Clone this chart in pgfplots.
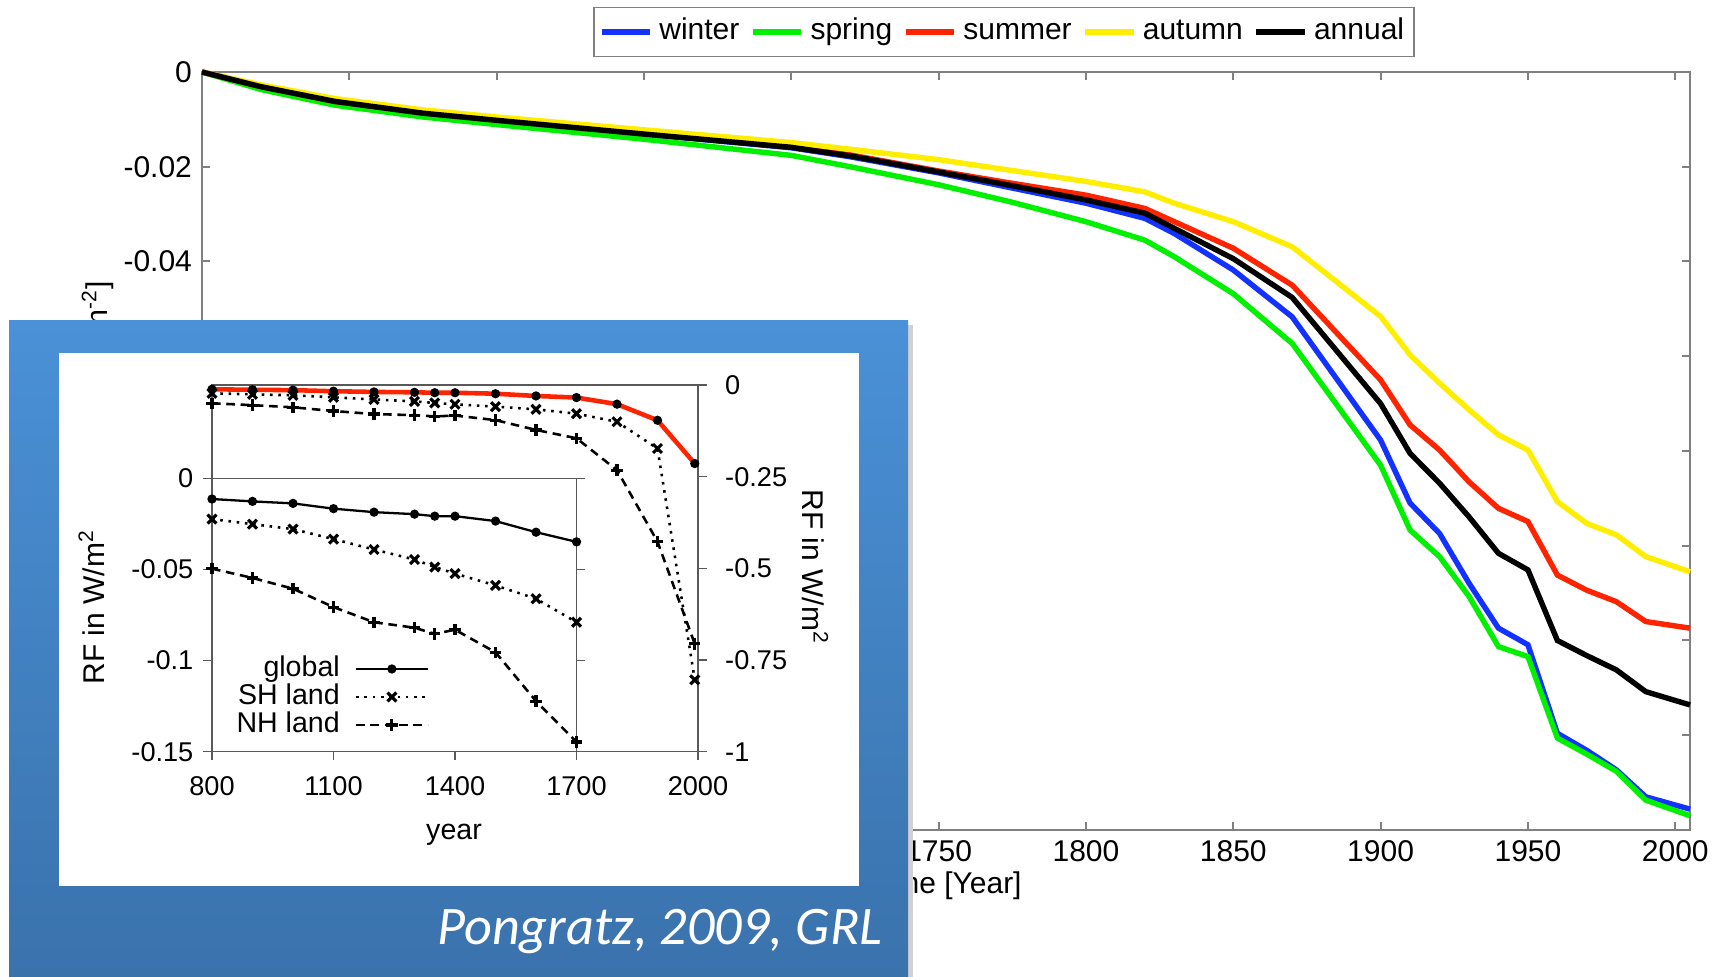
\documentclass[border=0pt]{standalone}
\usepackage{fontspec}
\setmainfont{Liberation Sans}
\newfontfamily\capfont{Carlito}
\usepackage{pgfplots}
\usepackage{pgfplotstable}
\pgfplotsset{compat=1.18}
\definecolor{cwinter}{RGB}{20,50,255}
\definecolor{cspring}{RGB}{0,240,0}
\definecolor{csummer}{RGB}{255,36,0}
\definecolor{cautumn}{RGB}{255,238,0}
\definecolor{boxtop}{RGB}{74,145,215}
\definecolor{boxbot}{RGB}{58,114,172}
\definecolor{axgray}{RGB}{128,128,128}

\pgfplotstableread{
year winter spring summer autumn annual
1500 0 0 0 0 0
1520 -0.0031 -0.0037 -0.0031 -0.0027 -0.0031
1545 -0.0062 -0.0070 -0.0062 -0.0056 -0.0062
1575 -0.0087 -0.0095 -0.0086 -0.0080 -0.0087
1600 -0.0102 -0.0111 -0.0101 -0.0095 -0.0102
1650 -0.0131 -0.0142 -0.0130 -0.0122 -0.0131
1700 -0.0160 -0.0176 -0.0158 -0.0149 -0.0159
1720 -0.0179 -0.0200 -0.0175 -0.0163 -0.0177
1750 -0.0213 -0.0238 -0.0209 -0.0185 -0.0211
1775 -0.0245 -0.0275 -0.0235 -0.0208 -0.0240
1800 -0.0277 -0.0316 -0.0260 -0.0231 -0.0270
1820 -0.0309 -0.0355 -0.0288 -0.0253 -0.0298
1830 -0.0341 -0.0390 -0.0316 -0.0277 -0.0330
1850 -0.0418 -0.0468 -0.0372 -0.0316 -0.0394
1870 -0.0517 -0.0573 -0.0450 -0.0369 -0.0476
1900 -0.0777 -0.0830 -0.0650 -0.0516 -0.0700
1910 -0.0910 -0.0967 -0.0745 -0.0597 -0.0805
1920 -0.0974 -0.1023 -0.0798 -0.0657 -0.0868
1930 -0.1079 -0.1107 -0.0865 -0.0713 -0.0939
1940 -0.1174 -0.1213 -0.0921 -0.0766 -0.1016
1950 -0.1209 -0.1234 -0.0949 -0.0798 -0.1051
1960 -0.1396 -0.1406 -0.1062 -0.0907 -0.1200
1970 -0.1432 -0.1440 -0.1094 -0.0953 -0.1232
1980 -0.1473 -0.1476 -0.1118 -0.0977 -0.1262
1990 -0.1530 -0.1537 -0.1160 -0.1023 -0.1308
2005 -0.1556 -0.1570 -0.1174 -0.1055 -0.1336
}\maindata

\pgfplotstableread{
year global sh nh
800 -0.0114 -0.0224 -0.0496
900 -0.0127 -0.0252 -0.0547
1000 -0.0138 -0.0279 -0.0606
1100 -0.0167 -0.0334 -0.0707
1200 -0.0186 -0.0391 -0.0790
1300 -0.0197 -0.0446 -0.0820
1350 -0.0208 -0.0487 -0.0854
1400 -0.0208 -0.0523 -0.0831
1500 -0.0235 -0.0588 -0.0955
1600 -0.0296 -0.0661 -0.1223
1700 -0.0349 -0.0790 -0.1447
}\insetinner

\pgfplotstableread{
year global sh nh
800 -0.0114 -0.0224 -0.0496
900 -0.0127 -0.0252 -0.0547
1000 -0.0138 -0.0279 -0.0606
1100 -0.0167 -0.0334 -0.0707
1200 -0.0186 -0.0391 -0.0790
1300 -0.0197 -0.0446 -0.0820
1350 -0.0208 -0.0487 -0.0854
1400 -0.0208 -0.0523 -0.0831
1500 -0.0235 -0.0588 -0.0955
1600 -0.0296 -0.0661 -0.1223
1700 -0.0340 -0.0780 -0.1450
1800 -0.0520 -0.1000 -0.2320
1900 -0.0960 -0.1730 -0.4270
1992 -0.2140 -0.8040 -0.7060
}\insetouter

\begin{document}
\begin{tikzpicture}
\path[use as bounding box] (0pt,0pt) rectangle (600.6pt,341.95pt);

% ---------------- main chart ----------------
\begin{axis}[
  at={(70.7pt,51.45pt)}, anchor=south west,
  scale only axis, width=520.8pt, height=265.3pt,
  xmin=1500, xmax=2005, ymin=-0.16, ymax=0,
  clip=false,
  xtick={1500,1550,1600,1650,1700,1750,1800,1850,1900,1950,2000},
  xticklabels={,,,,,1750,1800,1850,1900,1950,2000},
  ytick={-0.16,-0.14,-0.12,-0.1,-0.08,-0.06,-0.04,-0.02,0},
  yticklabels={,,,,,,-0.04,-0.02,0},
  tick align=inside, major tick length=2.8pt,
  axis line style={axgray, line width=0.7pt},
  tick style={axgray, line width=0.7pt},
  tick label style={font=\fontsize{10.5}{12}\selectfont},
  xlabel={Time [Year]}, ylabel={Radiative Forcing [W m\textsuperscript{-2}]},
  every axis x label/.style={at={(axis description cs:0.5,-0.073)}, anchor=center, font=\fontsize{10.5}{12}\selectfont},
  every axis y label/.style={at={(axis description cs:-0.07,0.5)}, rotate=90, anchor=center, font=\fontsize{10.5}{12}\selectfont},
  legend columns=5,
  legend style={at={(axis description cs:0.539,1.0528)}, anchor=center,
    draw=axgray, fill=white, line width=0.6pt, inner sep=1.5pt,
    font=\fontsize{10.5}{12}\selectfont,
    nodes={text height=7.8pt, text depth=2.3pt},
    /tikz/every even column/.append style={column sep=1.5pt}},
  legend image code/.code={\draw[#1, line width=2.4pt] (0pt,0pt) -- (17pt,0pt);},
]
\addplot[cwinter, line width=1.9pt] table[x=year,y=winter] {\maindata};
\addlegendentry{winter}
\addplot[cspring, line width=1.9pt] table[x=year,y=spring] {\maindata};
\addlegendentry{spring}
\addplot[csummer, line width=1.9pt] table[x=year,y=summer] {\maindata};
\addlegendentry{summer}
\addplot[cautumn, line width=1.9pt] table[x=year,y=autumn] {\maindata};
\addlegendentry{autumn}
\addplot[black, line width=1.9pt] table[x=year,y=annual] {\maindata};
\addlegendentry{annual}
\end{axis}

% ---------------- inset panel ----------------
\fill[black!18] (5pt,0pt) rectangle (319.6pt,228.2pt);
\shade[top color=boxtop, bottom color=boxbot] (3.15pt,0pt) rectangle (317.8pt,229.6pt);
\fill[white] (20.65pt,31.85pt) rectangle (300.65pt,218.4pt);
\node[anchor=base east, text=white, inner sep=0pt, font=\capfont\itshape\fontsize{19}{22}\selectfont] at (309pt,11.2pt) {Pongratz, 2009, GRL};

% outer (upper) axis
\begin{axis}[
  at={(74.2pt,78.86pt)}, anchor=south west,
  scale only axis, width=170.1pt, height=128.3pt,
  xmin=800, xmax=2000, ymin=-1, ymax=0,
  xtick={800,1100,1400,1700,2000},
  xticklabels={800,1100,1400,1700,2000},
  ytick={-1,-0.75,-0.5,-0.25,0},
  yticklabels={-1,-0.75,-0.5,-0.25,0},
  xtick pos=left, ytick pos=right,
  tick align=outside, major tick length=3pt,
  axis line style={black!65, line width=0.5pt},
  tick style={black!65, line width=0.5pt},
  tick label style={font=\fontsize{9.5}{10}\selectfont},
  xticklabel style={yshift=-2pt},
  yticklabel style={xshift=3pt},
  xlabel={year}, ylabel={RF in W/m\textsuperscript{2}},
  every axis x label/.style={at={(axis description cs:0.498,-0.227)}, anchor=center, font=\fontsize{10}{12}\selectfont},
  every axis y label/.style={at={(axis description cs:1.241,0.504)}, rotate=-90, anchor=center, font=\fontsize{10.5}{12}\selectfont},
  clip=false,
]
\addplot[black, line width=0.8pt, mark=*, mark size=1.2pt] table[x=year,y=global] {\insetouter};
\addplot[black, dotted, line width=0.9pt, mark=x, mark size=2.2pt, mark options={solid, line width=1.1pt}] table[x=year,y=sh] {\insetouter};
\addplot[black, densely dashed, line width=0.9pt, mark=+, mark size=2pt, mark options={solid, line width=1.1pt}] table[x=year,y=nh] {\insetouter};
\addplot[csummer, line width=1.6pt] table[x=year,y=global] {\insetouter};
\end{axis}

% inner (lower) axis
\begin{axis}[
  at={(74.2pt,78.86pt)}, anchor=south west,
  scale only axis, width=127.6pt, height=95.7pt,
  xmin=800, xmax=1700, ymin=-0.15, ymax=0,
  xtick=\empty,
  ytick={-0.15,-0.1,-0.05,0},
  yticklabels={-0.15,-0.1,-0.05,0},
  ytick pos=both,
  tick align=outside, major tick length=3pt,
  axis line style={black!65, line width=0.5pt},
  tick style={black!65, line width=0.5pt},
  tick label style={font=\fontsize{9.5}{10}\selectfont},
  ylabel={RF in W/m\textsuperscript{2}},
  every axis y label/.style={at={(axis description cs:-0.33,0.529)}, rotate=90, anchor=center, font=\fontsize{10.5}{12}\selectfont},
  legend plot pos=right,
  legend cell align=right,
  legend style={at={(axis description cs:0.33,0.2)}, anchor=center, draw=none, fill=none,
    font=\fontsize{10}{10}\selectfont, column sep=5pt,
    nodes={inner sep=0.3pt, text height=7.2pt, text depth=2pt}},
  legend image code/.code={\draw[mark repeat=2,mark phase=2,#1] plot coordinates {(0pt,0pt) (12.5pt,0pt) (25pt,0pt)};},
]
\addplot[black, line width=0.8pt, mark=*, mark size=1.2pt] table[x=year,y=global] {\insetinner};
\addlegendentry{global}
\addplot[black, dotted, line width=0.9pt, mark=x, mark size=2.2pt, mark options={solid, line width=1.1pt}] table[x=year,y=sh] {\insetinner};
\addlegendentry{SH land}
\addplot[black, densely dashed, line width=0.9pt, mark=+, mark size=2pt, mark options={solid, line width=1.1pt}] table[x=year,y=nh] {\insetinner};
\addlegendentry{NH land}
\end{axis}
\end{tikzpicture}
\end{document}
